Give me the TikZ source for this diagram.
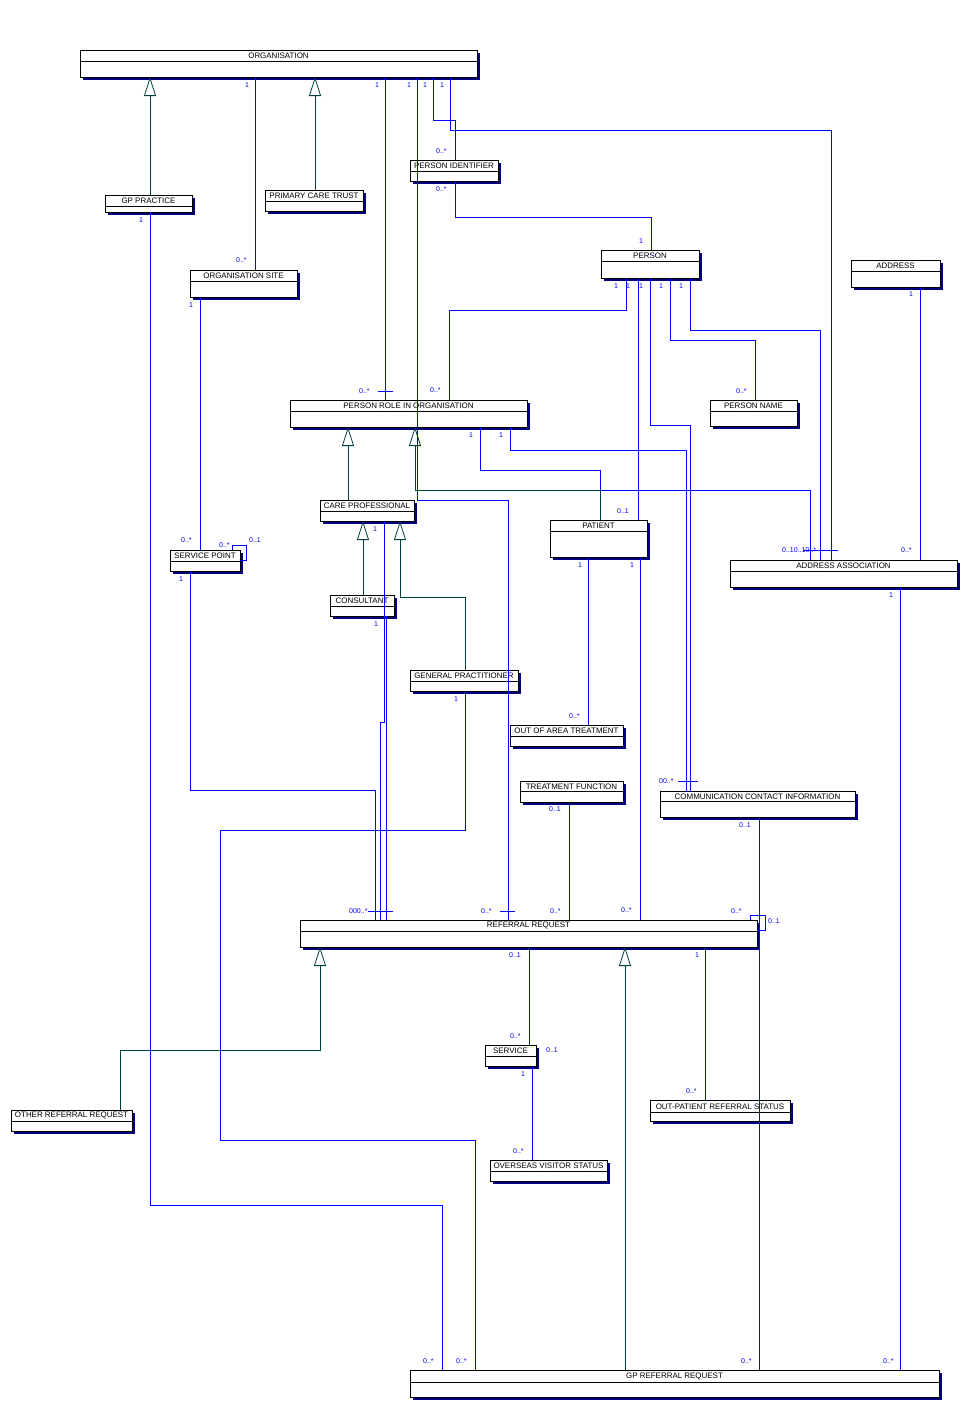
\documentclass[tikz,border=0pt]{standalone}
\usepackage{fontspec}
\setmainfont{Liberation Sans}
\usetikzlibrary{arrows.meta}
\definecolor{assocc}{RGB}{0,0,255}
\definecolor{genc}{RGB}{0,64,64}
\definecolor{shadowc}{RGB}{0,0,128}
\newcounter{mlab}
\newcommand\umlbox[7]{%
  \fill[shadowc] ({#2+2.5},{#3+2.5}) rectangle ({#4+2.5},{#5+2.5});
  \node[boxst, minimum width={(#4-#2)*1pt}, minimum height={(#5-#3)*1pt}] (#1) at ({(#2+#4)/2},{(#3+#5)/2}) {};
  \draw[boxline] ({#2},{#6}) -- ({#4},{#6});
  \node[titlest] (#1t) at ({(#2+#4)/2},{(#3+#6)/2+0.3}) {#7};
}
\newcommand\ml[3]{\stepcounter{mlab}\node[mult] (m\arabic{mlab}) at (#1,#2) {#3};}
\begin{document}
\begin{tikzpicture}[x=1pt,y=-1pt,
  boxst/.style={draw=black, fill=white, line width=0.8pt, inner sep=0pt, outer sep=0pt, rectangle},
  boxline/.style={draw=black, line width=0.7pt},
  titlest/.style={inner sep=0pt, font=\fontsize{7.95}{9}\selectfont, text=black},
  mult/.style={inner sep=0pt, anchor=west, font=\fontsize{7}{8}\selectfont, text=assocc},
  assoc/.style={draw=assocc, line width=0.8pt},
  gen/.style={draw=genc, line width=0.8pt, -{Triangle[open, width=12pt, length=19pt]}},
  tick/.style={draw=assocc, line width=0.8pt}]
\useasboundingbox (0,0) rectangle (971,1411);
\fill[white] (0,0) rectangle (971,1411);

% boxes
\umlbox{org}{80}{50}{477}{77}{61}{ORGANISATION}
\umlbox{gpp}{105}{195}{192}{212}{206}{GP PRACTICE}
\umlbox{pct}{265}{190}{363}{211}{201}{PRIMARY CARE TRUST}
\umlbox{os}{190}{270}{297}{297}{281}{ORGANISATION SITE}
\umlbox{pi}{410}{160}{498}{181}{171}{PERSON IDENTIFIER}
\umlbox{person}{601}{250}{699}{278}{261}{PERSON}
\umlbox{address}{851}{260}{940}{287}{271}{ADDRESS}
\umlbox{pname}{710}{400}{797}{426}{411}{PERSON NAME}
\umlbox{prio}{290}{400}{527}{427}{411}{PERSON ROLE IN ORGANISATION}
\umlbox{cp}{320}{500}{414}{521}{511}{CARE PROFESSIONAL}
\umlbox{patient}{550}{520}{647}{557}{531}{PATIENT}
\umlbox{sp}{170}{550}{240}{571}{561}{SERVICE POINT}
\umlbox{aa}{730}{560}{957}{587}{571}{ADDRESS ASSOCIATION}
\umlbox{cons}{330}{595}{394}{616}{606}{CONSULTANT}
\umlbox{gp}{410}{670}{518}{691}{681}{GENERAL PRACTITIONER}
\umlbox{ooat}{510}{725}{623}{746}{736}{OUT OF AREA TREATMENT}
\umlbox{tf}{520}{781}{623}{802}{791}{TREATMENT FUNCTION}
\umlbox{cci}{660}{791}{855}{817}{801}{COMMUNICATION CONTACT INFORMATION}
\umlbox{rr}{300}{920}{757}{947}{931}{REFERRAL REQUEST}
\umlbox{service}{485}{1045}{536}{1066}{1056}{SERVICE}
\umlbox{oprs}{650}{1100}{790}{1121}{1112}{OUT-PATIENT REFERRAL STATUS}
\umlbox{orr}{11}{1110}{132}{1131}{1121}{OTHER REFERRAL REQUEST}
\umlbox{ovs}{490}{1160}{607}{1181}{1171}{OVERSEAS VISITOR STATUS}
\umlbox{gprr}{410}{1370}{939}{1397}{1382}{GP REFERRAL REQUEST}

% associations
\draw[assoc] (255,0 |- org.south) -- (255,0 |- os.north);
\draw[assoc] (385,0 |- org.south) -- (385,0 |- prio.north);
\draw[assoc] (417,0 |- org.south) -- (417,500) -- (508,500) -- (508,0 |- rr.north);
\draw[assoc] (433,0 |- org.south) -- (433,120) -- (455,120) -- (455,0 |- pi.north);
\draw[assoc] (450,0 |- org.south) -- (450,130) -- (831,130) -- (831,0 |- aa.north);
\draw[assoc] (455,0 |- pi.south) -- (455,217) -- (651,217) -- (651,0 |- person.north);
\draw[assoc] (626,0 |- person.south) -- (626,310) -- (449,310) -- (449,0 |- prio.north);
\draw[assoc] (638,0 |- person.south) -- (638,0 |- patient.north);
\draw[assoc] (650,0 |- person.south) -- (650,425) -- (690,425) -- (690,0 |- cci.north);
\draw[assoc] (670,0 |- person.south) -- (670,340) -- (755,340) -- (755,0 |- pname.north);
\draw[assoc] (690,0 |- person.south) -- (690,330) -- (820,330) -- (820,0 |- aa.north);
\draw[assoc] (920,0 |- address.south) -- (920,0 |- aa.north);
\draw[assoc] (200,0 |- os.south) -- (200,0 |- sp.north);
\draw[assoc] (190,0 |- sp.south) -- (190,790) -- (375,790) -- (375,0 |- rr.north);
\draw[assoc] (480,0 |- prio.south) -- (480,470) -- (600,470) -- (600,0 |- patient.north);
\draw[assoc] (510,0 |- prio.south) -- (510,450) -- (686,450) -- (686,0 |- cci.north);
\draw[assoc] (600,0 |- patient.north) -- (600,490) -- (810,490) -- (810,0 |- aa.north);
\draw[assoc] (384,0 |- cp.south) -- (384,722) -- (380,722) -- (380,0 |- rr.north);
\draw[assoc] (386,0 |- cons.south) -- (386,0 |- rr.north);
\draw[assoc] (465,0 |- gp.south) -- (465,830) -- (220,830) -- (220,1140) -- (475,1140) -- (475,0 |- gprr.north);
\draw[assoc] (150,0 |- gpp.south) -- (150,1205) -- (442,1205) -- (442,0 |- gprr.north);
\draw[assoc] (588,0 |- patient.south) -- (588,0 |- ooat.north);
\draw[assoc] (640,0 |- patient.south) -- (640,0 |- rr.north);
\draw[assoc] (569,0 |- tf.south) -- (569,0 |- rr.north);
\draw[assoc] (759,0 |- cci.south) -- (759,0 |- gprr.north);
\draw[assoc] (900,0 |- aa.south) -- (900,0 |- gprr.north);
\draw[assoc] (529,0 |- rr.south) -- (529,0 |- service.north);
\draw[assoc] (532,0 |- service.south) -- (532,0 |- ovs.north);
\draw[assoc] (705,0 |- rr.south) -- (705,0 |- oprs.north);
\draw[assoc] (232,0 |- sp.north) -- (232,545) -- (246,545) -- (246,560) -- (sp.east |- 0,560);
\draw[assoc] (750,0 |- rr.north) -- (750,915) -- (765,915) -- (765,930) -- (rr.east |- 0,930);

% generalisations
\draw[gen] (150,0 |- gpp.north) -- (150,0 |- org.south);
\draw[gen] (315,0 |- pct.north) -- (315,0 |- org.south);
\draw[gen] (348,0 |- cp.north) -- (348,0 |- prio.south);
\draw[gen] (600,0 |- patient.north) -- (600,490) -- (415,490) -- (415,0 |- prio.south);
\draw[gen] (363,0 |- cons.north) -- (363,0 |- cp.south);
\draw[gen] (465,0 |- gp.north) -- (465,597) -- (400,597) -- (400,0 |- cp.south);
\draw[gen] (120,0 |- orr.north) -- (120,1050) -- (320,1050) -- (320,0 |- rr.south);
\draw[gen] (625,0 |- gprr.north) -- (625,0 |- rr.south);

% ticks
\draw[tick] (378,391) -- (393,391);
\draw[tick] (368,911) -- (393,911);
\draw[tick] (500,911) -- (515,911);
\draw[tick] (678,781) -- (698,781);
\draw[tick] (803,550) -- (838,550);

% multiplicities
\ml{245}{85}{1}\ml{375}{85}{1}\ml{407}{85}{1}\ml{423}{85}{1}\ml{440}{85}{1}
\ml{436}{151}{0..*}\ml{436}{189}{0..*}
\ml{639}{241}{1}
\ml{236}{260}{0..*}
\ml{139}{220}{1}
\ml{189}{305}{1}
\ml{614}{286}{1}\ml{626}{286}{1}\ml{639}{286}{1}\ml{659}{286}{1}\ml{679}{286}{1}
\ml{909}{294}{1}
\ml{736}{391}{0..*}
\ml{359}{391}{0..*}\ml{430}{390}{0..*}
\ml{469}{435}{1}\ml{499}{435}{1}
\ml{617}{511}{0..1}
\ml{782}{550}{0..10..10..*}
\ml{901}{550}{0..*}
\ml{889}{595}{1}
\ml{578}{565}{1}\ml{630}{565}{1}
\ml{181}{540}{0..*}\ml{219}{545}{0..*}\ml{249}{540}{0..1}\ml{179}{579}{1}
\ml{373}{529}{1}
\ml{374}{624}{1}
\ml{454}{699}{1}
\ml{569}{716}{0..*}
\ml{549}{809}{0..1}
\ml{659}{781}{00..*}
\ml{739}{825}{0..1}
\ml{349}{911}{000..*}
\ml{481}{911}{0..*}\ml{550}{911}{0..*}\ml{621}{910}{0..*}\ml{731}{911}{0..*}\ml{768}{921}{0..1}
\ml{509}{955}{0..1}\ml{695}{955}{1}
\ml{510}{1036}{0..*}\ml{546}{1050}{0..1}\ml{521}{1074}{1}
\ml{513}{1151}{0..*}
\ml{686}{1091}{0..*}
\ml{423}{1361}{0..*}\ml{456}{1361}{0..*}\ml{741}{1361}{0..*}\ml{883}{1361}{0..*}
\end{tikzpicture}
\end{document}
